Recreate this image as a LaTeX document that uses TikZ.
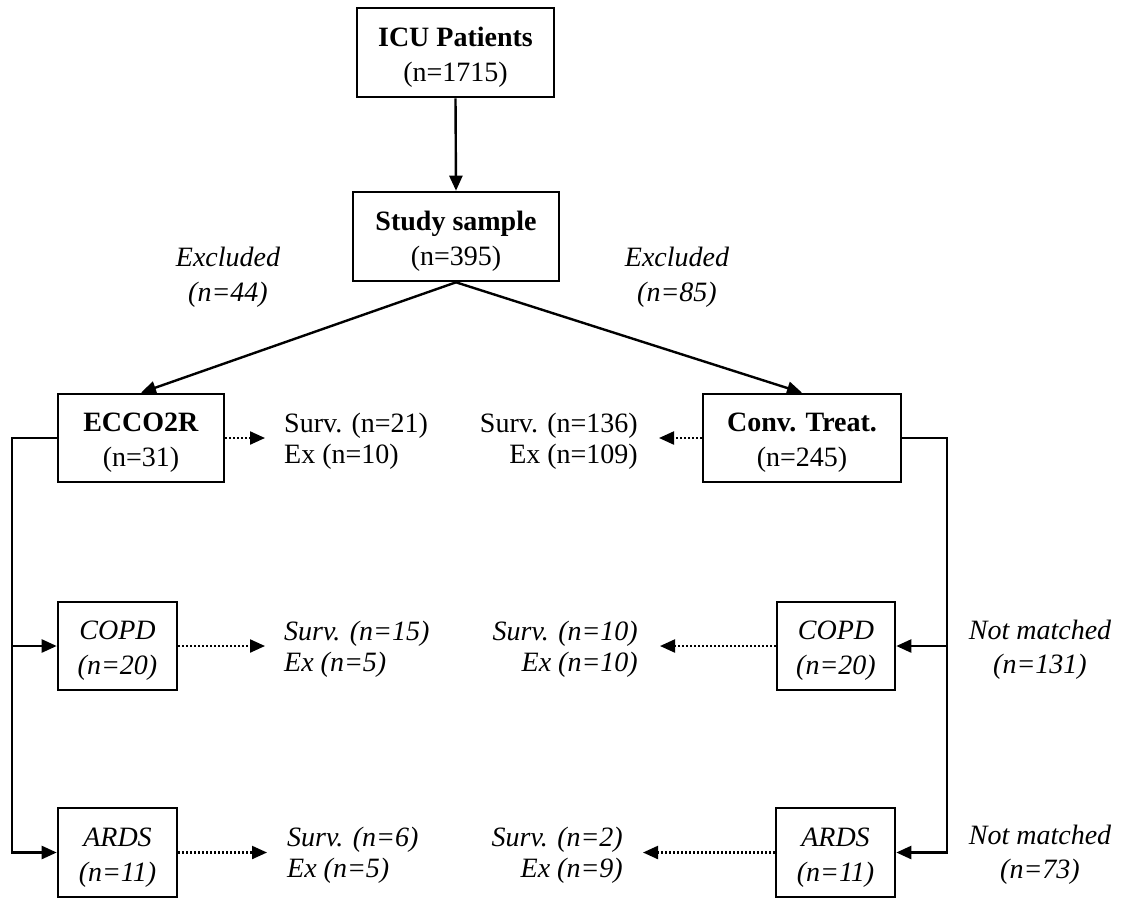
\documentclass[tikz,border=0pt]{standalone}
\usepackage{fontspec}
\setmainfont{Liberation Serif}
\usetikzlibrary{arrows.meta}
\newcommand{\tallstrut}{\rule{0pt}{28pt}}
\begin{document}
\begin{tikzpicture}[x=1pt,y=-1pt,
  box/.style={draw,line width=2.6pt,inner sep=0pt,align=center,font=\fontsize{28}{35}\selectfont},
  ibox/.style={box,font=\fontsize{28}{35}\selectfont\itshape},
  side/.style={inner sep=0pt,font=\fontsize{28}{31}\selectfont},
  iside/.style={side,font=\fontsize{28}{31}\selectfont\itshape},
  excl/.style={inner sep=0pt,align=center,font=\fontsize{28}{35}\selectfont\itshape},
  conn/.style={line width=2.4pt,-{Triangle[length=15pt,width=13pt]}},
  dotarr/.style={line width=2.2pt,dash pattern=on 2pt off 2pt,-{Triangle[length=15pt,width=13pt]}}]
\useasboundingbox (0,0) rectangle (1131,900);
% boxes
\node[box,minimum width=197pt,minimum height=89pt] (icu) at (455.5,52.5) {\tallstrut\textbf{ICU Patients}\\(n=1715)};
\node[box,minimum width=206pt,minimum height=89pt] (study) at (456,236.5) {\tallstrut\textbf{Study sample}\\(n=395)};
\node[box,minimum width=166pt,minimum height=88pt] (ecco) at (141,438) {\tallstrut\textbf{ECCO2R}\\(n=31)};
\node[box,minimum width=198pt,minimum height=88pt] (conv) at (802,438) {\tallstrut\textbf{Conv. Treat.}\\(n=245)};
\node[ibox,minimum width=119pt,minimum height=88pt] (copdL) at (117.5,646) {\tallstrut COPD\\(n=20)};
\node[ibox,minimum width=119pt,minimum height=89pt] (ardsL) at (117.5,852.5) {\tallstrut ARDS\\(n=11)};
\node[ibox,minimum width=118pt,minimum height=88pt] (copdR) at (836,646) {\tallstrut COPD\\(n=20)};
\node[ibox,minimum width=119pt,minimum height=89pt] (ardsR) at (835.5,852.5) {\tallstrut ARDS\\(n=11)};
% labels
\node[excl] (exL) at (228,277) {Excluded\\(n=44)};
\node[excl] (exR) at (677,277) {Excluded\\(n=85)};
\node[excl,font=\fontsize{28}{34}\selectfont\itshape] (nm1) at (1040,650) {Not matched\\(n=131)};
\node[excl,font=\fontsize{28}{34}\selectfont\itshape] (nm2) at (1040,855) {Not matched\\(n=73)};
\node[side,anchor=west,align=left] (eccoS) at (284,441) {Surv. (n=21)\\Ex (n=10)};
\node[side,anchor=east,align=right] (convS) at (638,441) {Surv. (n=136)\\Ex (n=109)};
\node[iside,anchor=west,align=left] (copdLS) at (284,649) {Surv. (n=15)\\Ex (n=5)};
\node[iside,anchor=east,align=right] (copdRS) at (638,649) {Surv. (n=10)\\Ex (n=10)};
\node[iside,anchor=west,align=left] (ardsLS) at (287,855) {Surv. (n=6)\\Ex (n=5)};
\node[iside,anchor=east,align=right] (ardsRS) at (623,855) {Surv. (n=2)\\Ex (n=9)};
% coordinates
\coordinate (lt) at (12,438);
\coordinate (rt) at (947,438);
\coordinate (eccoT) at (265,438);
\coordinate (convT) at (659,438);
\coordinate (copdLT) at (265,646);
\coordinate (copdRT) at (660,646);
\coordinate (ardsLT) at (267,852.5);
\coordinate (ardsRT) at (643,852.5);
% connectors
\draw[conn] (icu.south) -- (study.north);
\draw[conn] (study.south) -- (ecco.north);
\draw[conn] (study.south) -- (conv.north);
\draw[conn] (ecco.west) -- (lt) |- (ardsL.west);
\draw[conn] (lt |- copdL.west) -- (copdL.west);
\draw[conn] (conv.east) -- (rt) |- (ardsR.east);
\draw[conn] (rt |- copdR.east) -- (copdR.east);
\draw[dotarr] (ecco.east) -- (eccoT);
\draw[dotarr] (conv.west) -- (convT);
\draw[dotarr] (copdL.east) -- (copdLT);
\draw[dotarr] (copdR.west) -- (copdRT);
\draw[dotarr] (ardsL.east) -- (ardsLT);
\draw[dotarr] (ardsR.west) -- (ardsRT);
\end{tikzpicture}
\end{document}
